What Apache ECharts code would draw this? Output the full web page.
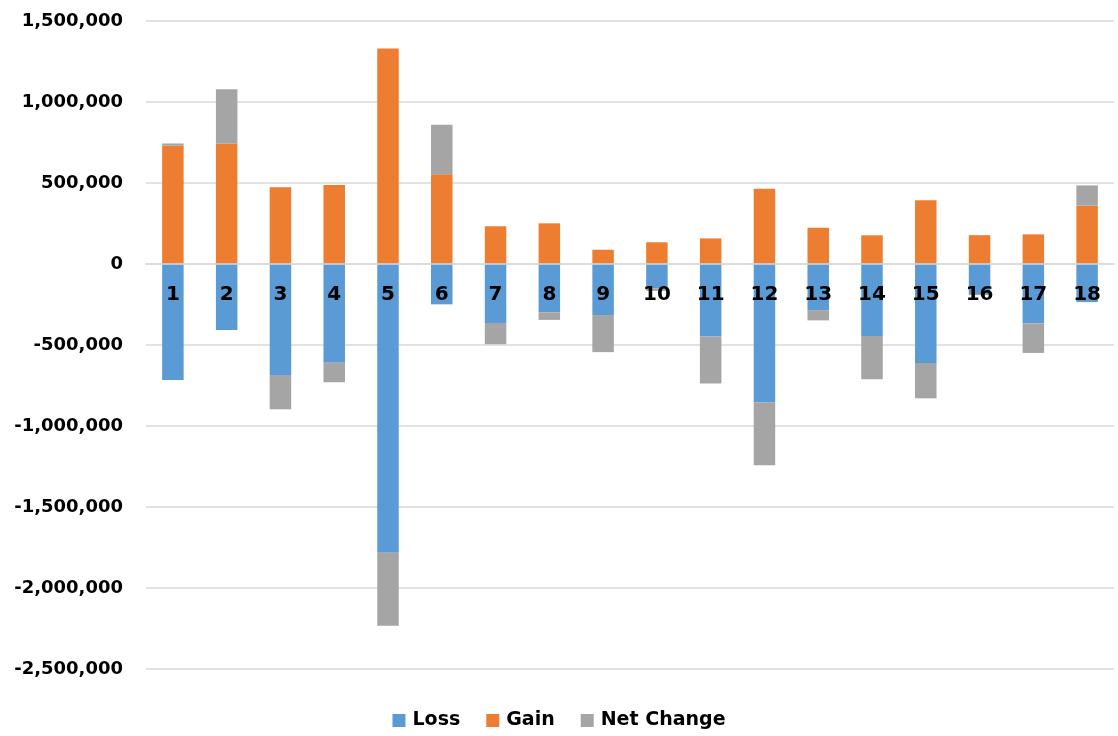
<!DOCTYPE html>
<html>
<head>
<meta charset="utf-8">
<script src="https://cdn.jsdelivr.net/npm/echarts@6/dist/echarts.min.js"></script>
<style>
  html, body { margin: 0; padding: 0; background: #ffffff; }
  #chart { width: 1118px; height: 736px; }
</style>
</head>
<body>
<div id="chart"></div>
<script>
// Period numbers along the zero line
const categories = ['1', '2', '3', '4', '5', '6', '7', '8', '9', '10', '11', '12', '13', '14', '15', '16', '17', '18'];

// Losses per period (negative)
const loss = [-716000, -407000, -685000, -609000, -1782000, -249000, -364000, -298000, -315000, -150000,
              -448000, -854000, -285000, -444000, -611000, -185000, -366000, -235000];

// Gains per period (positive)
const gain = [730000, 743000, 473000, 488000, 1331000, 554000, 233000, 251000, 88000, 134000,
              158000, 465000, 224000, 177000, 393000, 178000, 183000, 360000];

// Net change per period (gain + loss)
const netChange = [14000, 336000, -212000, -121000, -451000, 305000, -131000, -47000, -229000, -16000,
                   -290000, -389000, -63000, -267000, -218000, -7000, -183000, 125000];

// Value axis range and tick spacing
const yMin = -2500000;
const yMax = 1500000;
const yStep = 500000;

const FONT = '"DejaVu Sans", "Noto Sans", sans-serif';

// Plot area
const GRID = { left: 146, right: 4, top: 21, bottom: 67 };
const CHART_H = 736;

function withCommas(v) {
  const s = Math.abs(v).toString().replace(/\B(?=(\d{3})+(?!\d))/g, ',');
  return (v < 0 ? '-' : '') + s;
}

// Lift the category axis from the bottom of the plot up to the zero value line
const plotH = CHART_H - GRID.top - GRID.bottom;
const zeroLift = plotH * (0 - yMin) / (yMax - yMin);

const chart = echarts.init(document.getElementById('chart'), null, { renderer: 'canvas' });

chart.setOption({
  animation: false,
  backgroundColor: '#ffffff',
  color: ['#5B9BD5', '#ED7D31', '#A5A5A5'],
  grid: Object.assign({ containLabel: false }, GRID),
  legend: {
    bottom: 1,
    left: 'center',
    itemWidth: 13,
    itemHeight: 13,
    itemGap: 26,
    icon: 'rect',
    textStyle: { fontFamily: FONT, fontSize: 19, fontWeight: 'bold', color: '#000000', padding: [0, 0, 0, 2] },
    data: ['Loss', 'Gain', 'Net Change']
  },
  xAxis: {
    type: 'category',
    data: categories,
    position: 'bottom',
    offset: -zeroLift,
    z: 10,
    axisLine: { onZero: false, lineStyle: { color: '#d9d9d9', width: 1.5 } },
    axisTick: { show: false },
    axisLabel: {
      margin: 21,
      fontFamily: FONT,
      fontSize: 20,
      fontWeight: 'bold',
      color: '#000000'
    },
    splitLine: { show: false }
  },
  yAxis: {
    type: 'value',
    min: yMin,
    max: yMax,
    interval: yStep,
    axisLine: { show: false },
    axisTick: { show: false },
    axisLabel: {
      margin: 23,
      fontFamily: FONT,
      fontSize: 18,
      fontWeight: 'bold',
      color: '#000000',
      formatter: withCommas
    },
    splitLine: { lineStyle: { color: '#d9d9d9', width: 1.5 } }
  },
  series: [
    { name: 'Loss', type: 'bar', stack: 'total', barWidth: '40%', data: loss },
    { name: 'Gain', type: 'bar', stack: 'total', barWidth: '40%', data: gain },
    { name: 'Net Change', type: 'bar', stack: 'total', barWidth: '40%', data: netChange }
  ]
});
</script>
</body>
</html>
